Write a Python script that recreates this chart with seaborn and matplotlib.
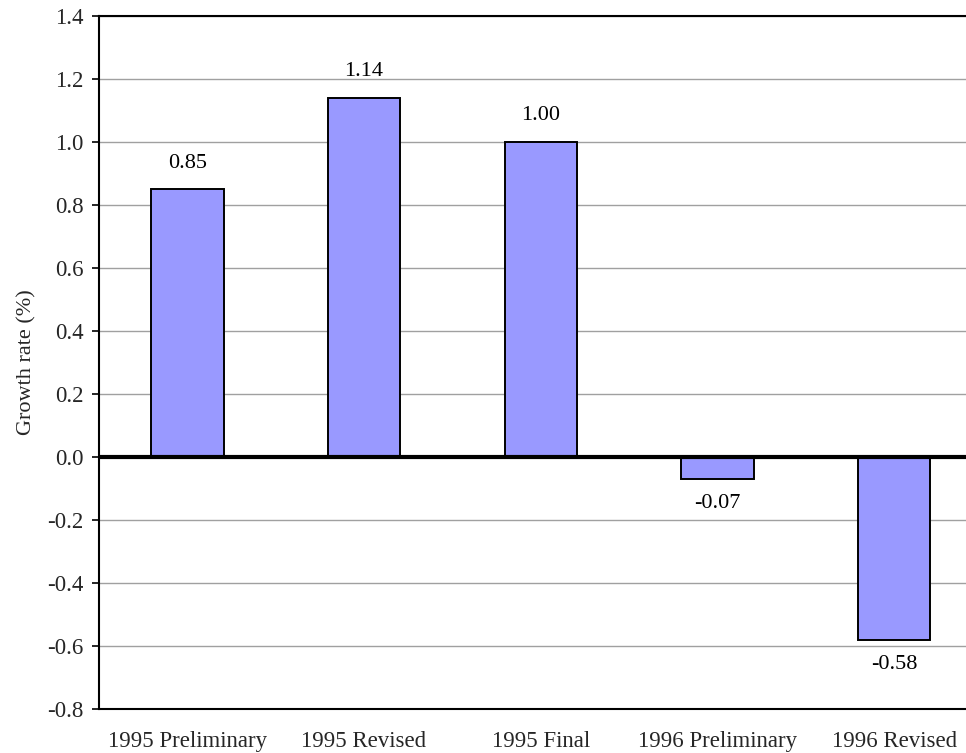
import matplotlib

matplotlib.use("Agg")
import matplotlib.pyplot as plt
import numpy as np
import seaborn as sns

# Data ------------------------------------------------------------------------
categories = [
    "1995 Preliminary",
    "1995 Revised",
    "1995 Final",
    "1996 Preliminary",
    "1996 Revised",
]
growth_rate = [0.85, 1.14, 1.00, -0.07, -0.58]
y_ticks = [-0.8, -0.6, -0.4, -0.2, 0.0, 0.2, 0.4, 0.6, 0.8, 1.0, 1.2, 1.4]

sns.set_theme(style="white")
plt.rcParams["font.family"] = ["Liberation Serif", "DejaVu Serif"]

BAR_COLOR = "#9999ff"

fig = plt.figure(figsize=(9.66, 7.53), dpi=100)
ax = fig.add_axes([99 / 966, 44 / 753, 867 / 966, 693 / 753])

sns.barplot(
    x=categories,
    y=growth_rate,
    color=BAR_COLOR,
    saturation=1,
    edgecolor="black",
    linewidth=1.4,
    width=0.41,
    ax=ax,
    zorder=3,
)

# labels above / below the bars
for bar, v in zip(ax.containers[0], growth_rate):
    ax.annotate(
        f"{v:.2f}",
        (bar.get_x() + bar.get_width() / 2, v),
        xytext=(0, 12 if v >= 0 else -11),
        textcoords="offset points",
        ha="center",
        va="bottom" if v >= 0 else "top",
        fontsize=16,
        color="black",
    )

ax.set_ylim(-0.8, 1.4)
ax.set_xlim(-0.5, 4 + 72 / 177)
ax.set_yticks(y_ticks)
ax.set_yticklabels([f"{t:.1f}" for t in y_ticks], fontsize=16.5)
ax.tick_params(axis="x", labelsize=16.5, length=0, pad=16)
ax.tick_params(axis="y", length=5, width=1.2, color="black", direction="out", pad=6, left=True)

ax.yaxis.grid(True, color="#a0a0a0", linewidth=1)
ax.set_axisbelow(True)
ax.axhline(0, color="black", linewidth=3, zorder=4)

for side in ["left", "top", "bottom"]:
    ax.spines[side].set_color("black")
    ax.spines[side].set_linewidth(1.5)
ax.spines["right"].set_visible(False)

ax.set_xlabel("")
ax.set_ylabel("Growth rate (%)", fontsize=16, labelpad=8)

plt.savefig("out.png", dpi=100)
plt.close()
